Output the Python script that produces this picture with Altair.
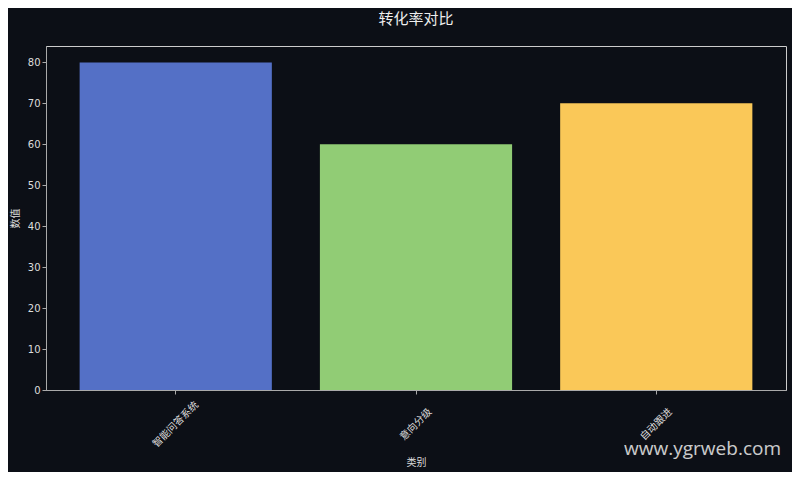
import altair as alt
import pandas as pd

categories = ["智能问答系统", "意向分级", "自动跟进"]
values = [80, 60, 70]
colors = ["#5470c6", "#91cc75", "#fac858"]
y_ticks = [0, 10, 20, 30, 40, 50, 60, 70, 80]

df = pd.DataFrame({"类别": categories, "数值": values})

FONT = "DejaVu Sans, Noto Sans CJK SC, sans-serif"
BG = "#0c0f16"

bars = alt.Chart(df).mark_bar().encode(
    x=alt.X(
        "类别:N",
        sort=categories,
        scale=alt.Scale(paddingInner=0.2, paddingOuter=0.14),
        axis=alt.Axis(
            title="类别",
            labelAngle=315,
            labelAlign="center",
            labelBaseline="middle",
            labelPadding=30,
            labelOverlap=False,
            labelFontSize=10,
            labelColor="#dddddd",
            tickSize=4,
            tickColor="#aaaaaa",
            domainColor="#aaaaaa",
            titleFontSize=10,
            titleColor="#dddddd",
            titleFontWeight="normal",
            titlePadding=9,
        ),
    ),
    y=alt.Y(
        "数值:Q",
        scale=alt.Scale(domain=[0, 84], nice=False, zero=True),
        axis=alt.Axis(
            title="数值",
            values=y_ticks,
            grid=False,
            labelFontSize=10,
            labelColor="#dddddd",
            tickSize=4,
            tickColor="#aaaaaa",
            domainColor="#aaaaaa",
            titleFontSize=10,
            titleColor="#dddddd",
            titleFontWeight="normal",
            titlePadding=7,
        ),
    ),
    color=alt.Color("类别:N", sort=categories,
                    scale=alt.Scale(domain=categories, range=colors), legend=None),
)

watermark = alt.Chart(pd.DataFrame({"t": ["www.ygrweb.com"]})).mark_text(
    align="right", baseline="alphabetic", fontSize=19, color="#e0e0e0",
    font="Open Sans", opacity=0.9,
).encode(x=alt.value(735), y=alt.value(409), text="t:N")

chart = alt.layer(bars, watermark).properties(
    width=740,
    height=344,
    background=BG,
    padding={"left": 38, "top": 38, "right": 6, "bottom": 82},
    autosize=alt.AutoSizeParams(type="none"),
    title=alt.TitleParams(
        "转化率对比", fontSize=15, color="#eeeeee", fontWeight="normal",
        anchor="middle", offset=19, font=FONT,
    ),
).configure(
    font=FONT,
).configure_view(
    stroke="#cccccc", strokeWidth=1,
).configure_axis(
    labelFont=FONT, titleFont=FONT,
)

chart.save("out.html", embed_options={"renderer": "svg", "actions": False})
